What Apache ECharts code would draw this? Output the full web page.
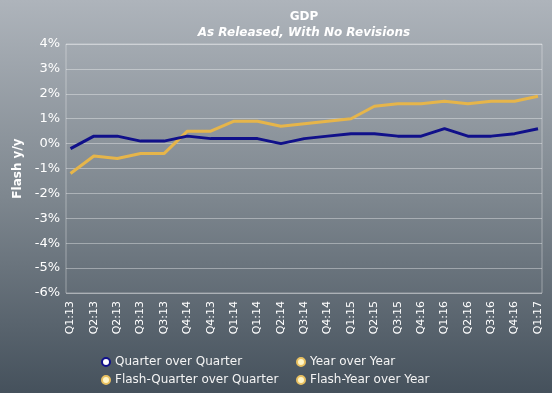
<!DOCTYPE html>
<html>
<head>
<meta charset="utf-8">
<script src="https://cdn.jsdelivr.net/npm/echarts@6/dist/echarts.min.js"></script>
<style>html,body{margin:0;padding:0;}#c{width:552px;height:393px;}</style>
</head>
<body>
<div id="c"></div>
<script>
const categories = ['Q1:13','Q2:13','Q2:13','Q3:13','Q3:13','Q4:14','Q4:13','Q1:14','Q1:14','Q2:14','Q3:14','Q4:14','Q1:15','Q2:15','Q3:15','Q4:16','Q1:16','Q2:16','Q3:16','Q4:16','Q1:17'];
const quarterOverQuarter = [-0.2,0.3,0.3,0.1,0.1,0.3,0.2,0.2,0.2,0.0,0.2,0.3,0.4,0.4,0.3,0.3,0.6,0.3,0.3,0.4,0.6];
const yearOverYear = [-1.2,-0.5,-0.6,-0.4,-0.4,0.5,0.5,0.9,0.9,0.7,0.8,0.9,1.0,1.5,1.6,1.6,1.7,1.6,1.7,1.7,1.9];
const flashQuarterOverQuarter = [];
const flashYearOverYear = [];
const yTicks = [-6,-5,-4,-3,-2,-1,0,1,2,3,4];

const FONT = 'DejaVu Sans';
const NAVY = '#10108a';
const GOLD = '#e6b54a';
const PALE = '#fff6c8';
const gridLine = 'rgba(255,255,255,0.36)';

const legendText = {fontFamily:FONT, fontSize:12, color:'#f4f4f4'};
const navyIcon = {color:'#ffffff', borderColor:NAVY, borderWidth:2};
const goldIcon = {color:PALE, borderColor:'#e9c060', borderWidth:2};

const chart = echarts.init(document.getElementById('c'));
chart.setOption({
  backgroundColor: {type:'linear', x:0, y:0, x2:0, y2:1, colorStops:[
    {offset:0, color:'#aeb4bb'}, {offset:0.5, color:'#7e878f'}, {offset:1, color:'#45515c'}]},
  animation: false,
  title: [
    {text:'GDP', left:299, top:6, textAlign:'center',
     textStyle:{fontFamily:FONT, fontSize:12, fontWeight:'bold', color:'#ffffff'}},
    {text:'As Released, With No Revisions', left:299, top:22, textAlign:'center',
     textStyle:{fontFamily:FONT, fontSize:12, fontWeight:'bold', fontStyle:'italic', color:'#ffffff'}}
  ],
  grid: [
    {left:66, right:10, top:44, bottom:100, show:true, borderColor:gridLine, borderWidth:1, backgroundColor:'transparent'},
    {left:70.5, right:14, top:44, bottom:100}
  ],
  xAxis: [
    {type:'category', gridIndex:0, data:categories, boundaryGap:false, show:false},
    {type:'category', gridIndex:1, data:categories, boundaryGap:false,
     axisLine:{show:false}, axisTick:{show:false}, splitLine:{show:false},
     axisLabel:{rotate:90, interval:0, margin:8, fontFamily:FONT, fontSize:11, color:'#ffffff'}}
  ],
  yAxis: [
    {type:'value', gridIndex:0, min:yTicks[0], max:yTicks[yTicks.length-1], interval:1,
     name:'Flash y/y', nameLocation:'middle', nameGap:37, nameRotate:90,
     nameTextStyle:{fontFamily:FONT, fontSize:12, fontWeight:'bold', color:'#ffffff'},
     axisLine:{show:false}, axisTick:{show:false},
     splitLine:{lineStyle:{color:gridLine, width:1}},
     axisLabel:{margin:6, fontFamily:FONT, fontSize:13, color:'#ffffff', formatter: v => v + '%'}},
    {type:'value', gridIndex:1, min:yTicks[0], max:yTicks[yTicks.length-1], show:false, splitLine:{show:false}}
  ],
  legend: [
    {data:[{name:'Quarter over Quarter', icon:'circle', itemStyle:navyIcon},
           {name:'Flash-Quarter over Quarter', icon:'circle', itemStyle:goldIcon}],
     orient:'vertical', left:101, top:356, padding:0, itemGap:6, itemWidth:8, itemHeight:8, textStyle:legendText},
    {data:[{name:'Year over Year', icon:'circle', itemStyle:goldIcon},
           {name:'Flash-Year over Year', icon:'circle', itemStyle:goldIcon}],
     orient:'vertical', left:296, top:356, padding:0, itemGap:6, itemWidth:8, itemHeight:8, textStyle:legendText}
  ],
  series: [
    {name:'Quarter over Quarter', type:'line', xAxisIndex:1, yAxisIndex:1, data:quarterOverQuarter,
     showSymbol:false, lineStyle:{color:NAVY, width:3}, itemStyle:{color:NAVY}, z:3},
    {name:'Year over Year', type:'line', xAxisIndex:1, yAxisIndex:1, data:yearOverYear,
     showSymbol:false, lineStyle:{color:GOLD, width:3}, itemStyle:{color:GOLD}, z:2},
    {name:'Flash-Quarter over Quarter', type:'line', xAxisIndex:1, yAxisIndex:1, data:flashQuarterOverQuarter,
     showSymbol:false, lineStyle:{color:GOLD, width:3}, itemStyle:{color:GOLD}},
    {name:'Flash-Year over Year', type:'line', xAxisIndex:1, yAxisIndex:1, data:flashYearOverYear,
     showSymbol:false, lineStyle:{color:GOLD, width:3}, itemStyle:{color:GOLD}}
  ]
});
</script>
</body>
</html>
